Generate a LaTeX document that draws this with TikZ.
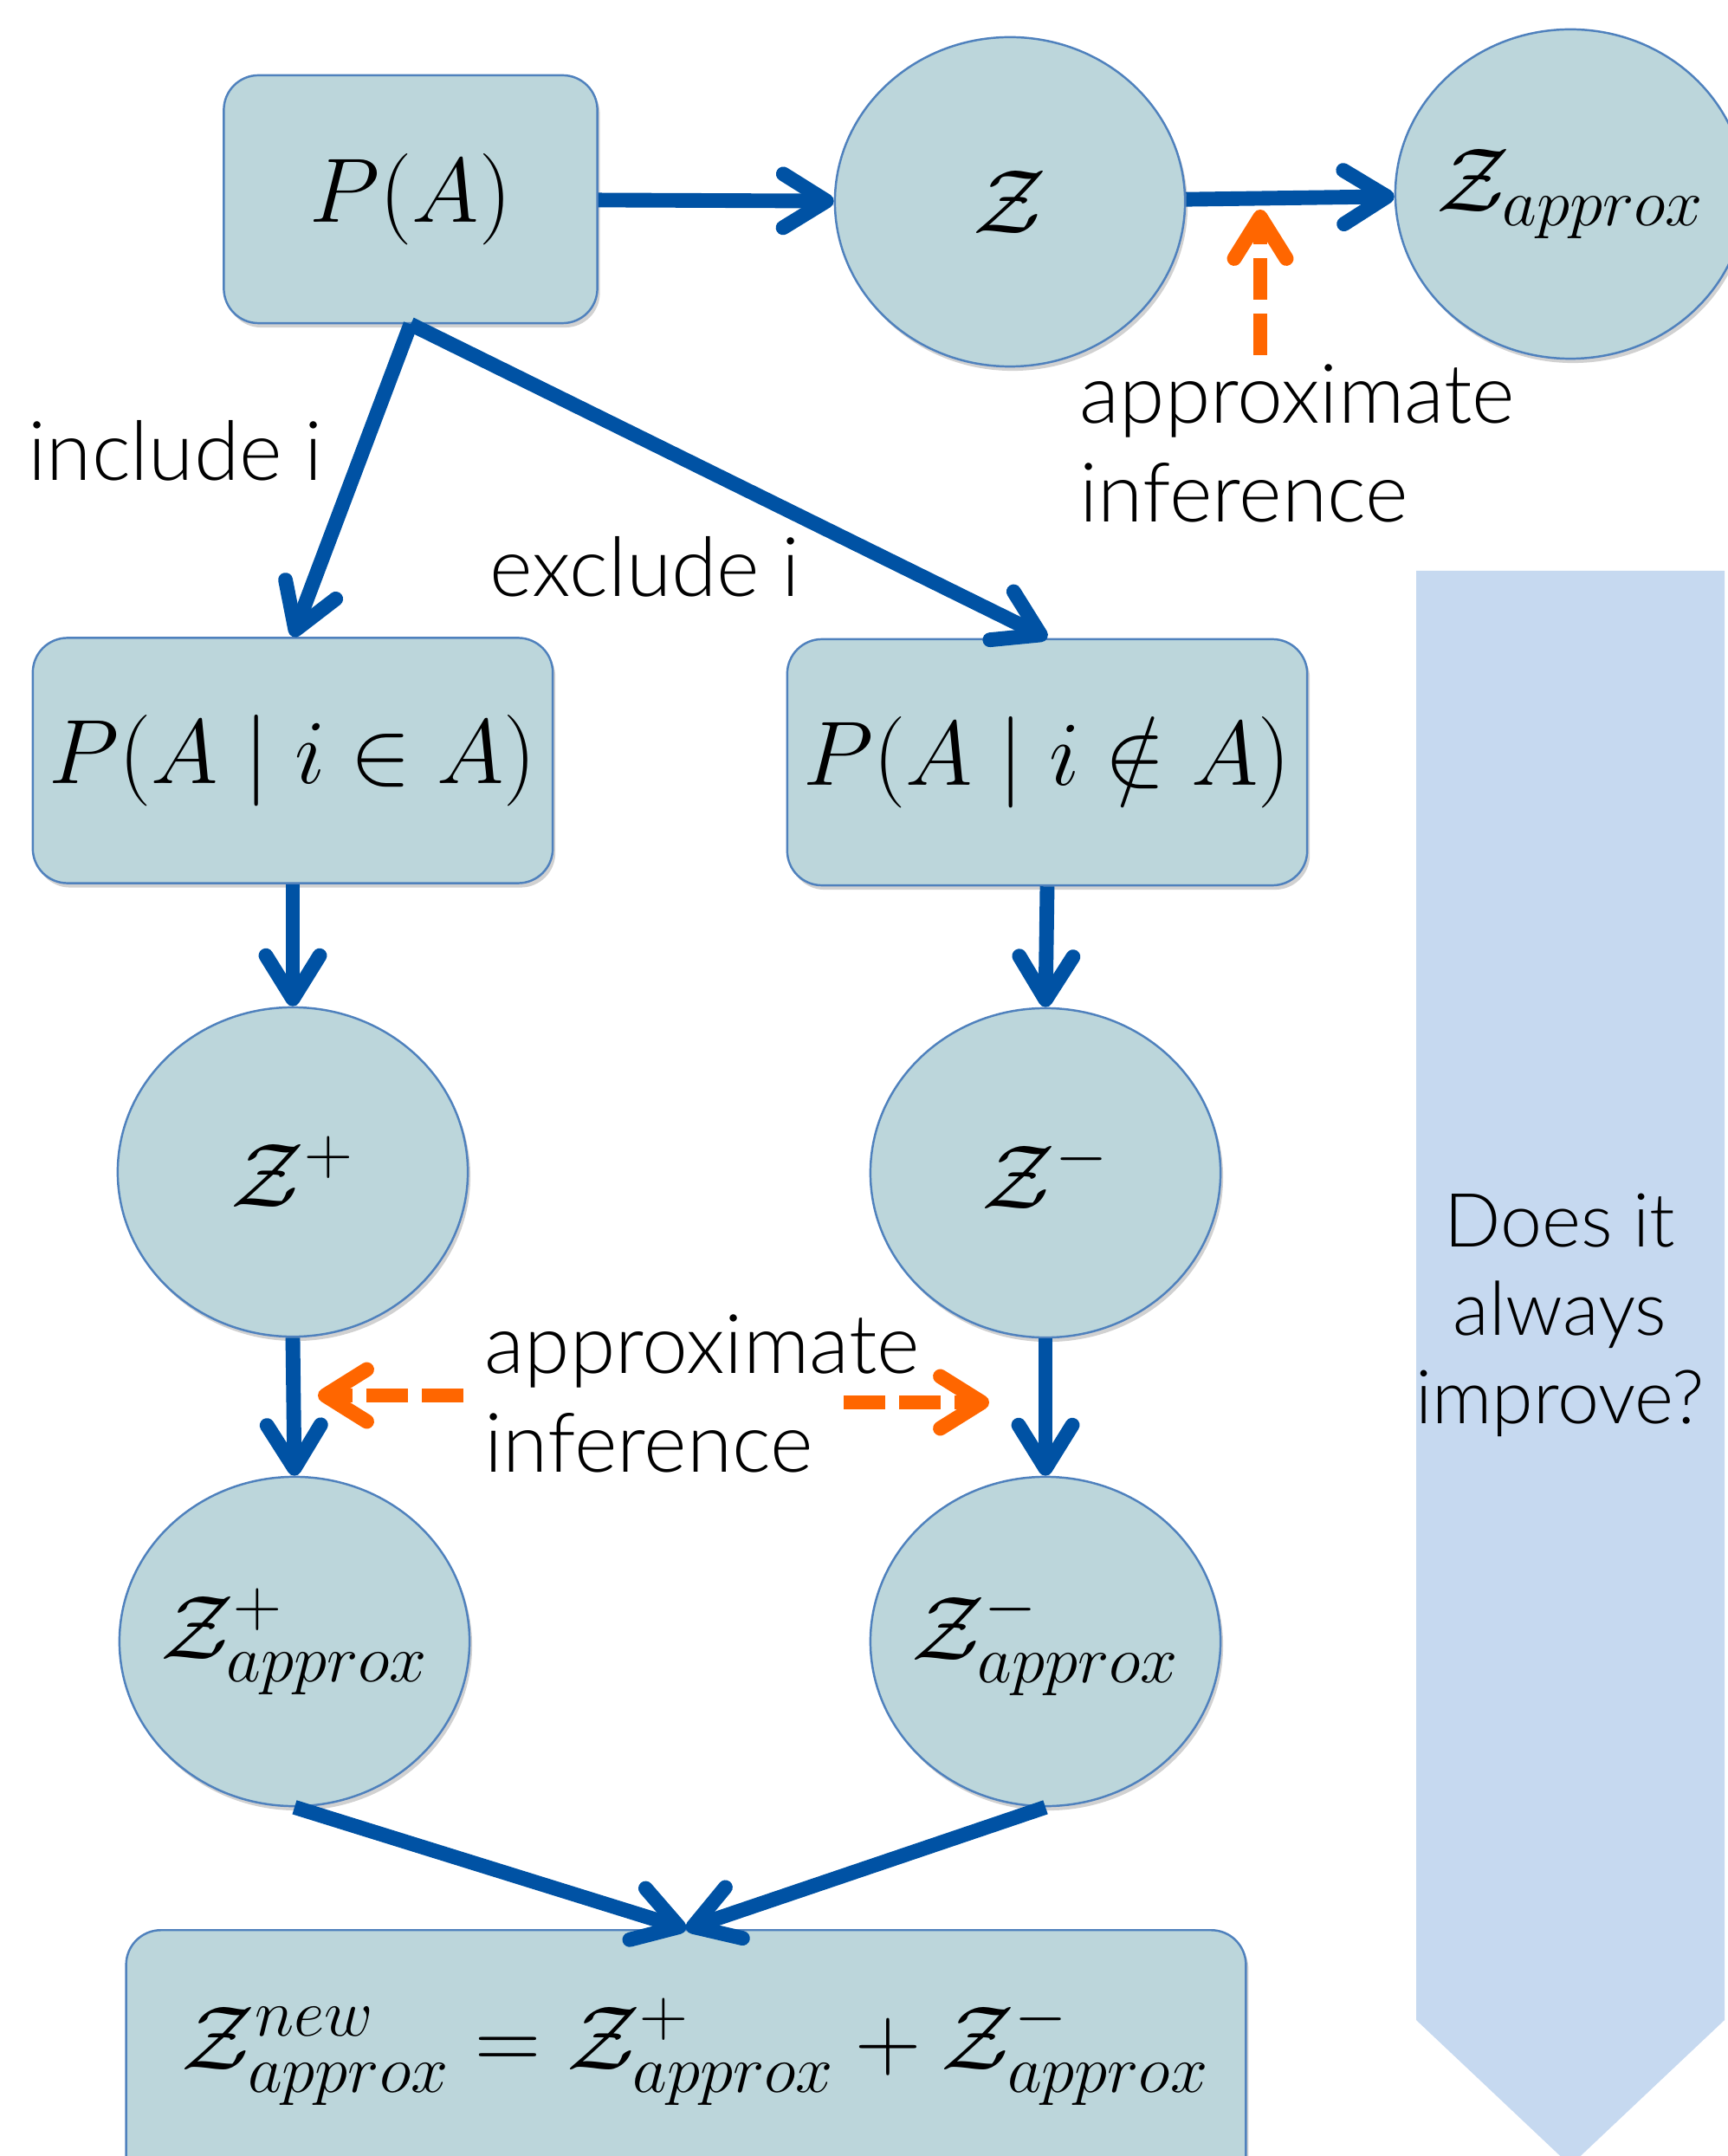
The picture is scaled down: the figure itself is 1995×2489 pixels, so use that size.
\RequirePackage{fix-cm}
\documentclass[tikz,border=0pt]{standalone}
\usepackage{fontspec}
\newfontfamily\lbl{Lato Light}
\usetikzlibrary{arrows.meta,shapes.geometric,shadows}
\DeclareMathSizes{30}{30}{22}{18}
\definecolor{nodefill}{RGB}{188,214,219}
\definecolor{nodeborder}{RGB}{79,129,189}
\definecolor{arrblue}{RGB}{0,82,164}
\definecolor{arrorange}{RGB}{255,102,0}
\definecolor{bigarrow}{RGB}{198,217,240}
\newcommand{\nobox}[1]{\makebox[0pt][c]{#1}}
\begin{document}
\begin{tikzpicture}[x=0.01cm,y=-0.01cm,
  mathtxt/.style={font=\fontsize{30}{36}\selectfont},
  shad/.style={drop shadow={shadow xshift=0.03cm,shadow yshift=-0.05cm,opacity=0.18,fill=black}},
  circ/.style={ellipse,draw=nodeborder,fill=nodefill,line width=0.7pt,minimum width=4.04cm,minimum height=3.8cm,inner sep=0pt,mathtxt,shad},
  box/.style={rectangle,rounded corners=0.4cm,draw=nodeborder,fill=nodefill,line width=0.7pt,inner sep=0pt,mathtxt,shad},
  lbltxt/.style={font=\lbl\fontsize{27}{32.5}\selectfont,inner sep=0pt},
  flow/.style={draw=arrblue,line width=4.8pt,-{Straight Barb[length=0.5cm,width=0.62cm,round]}},
  approxarr/.style={draw=arrorange,line width=4.8pt,dash pattern=on 0.48cm off 0.16cm,-{Straight Barb[length=0.48cm,width=0.6cm,round]}}
]
\path[use as bounding box] (0,0) rectangle (1995,2489);
\clip (0,0) rectangle (1995,2489);

% big arrow on the right
\fill[bigarrow] (1635,659) -- (1991,659) -- (1991,2332) -- (1813,2500) -- (1635,2332) -- cycle;
\node[lbltxt,align=center,font=\lbl\fontsize{24.5}{29}\selectfont] (q) at (1801,1518) {Does it\\always\\improve?};

% nodes
\node[box,minimum width=4.31cm,minimum height=2.86cm] (PA) at (474,230) {$P(A)$};
\node[circ] (Z) at (1166,233) {\nobox{$\mathcal{Z}$}};
\node[circ] (Zap) at (1813,224) {\nobox{$\mathcal{Z}_{approx}$}};
\node[box,minimum width=6cm,minimum height=2.83cm] (LB) at (338,878) {$P(A \mid i \in A)$};
\node[box,minimum width=6cm,minimum height=2.84cm] (RB) at (1209,880) {$P(A \mid i \notin A)$};
\node[circ] (Zp) at (338,1353) {\nobox{$\mathcal{Z}^{+}$}};
\node[circ] (Zm) at (1207,1354) {\nobox{$\mathcal{Z}^{-}$}};
\node[circ] (Zpa) at (340,1895) {\nobox{$\mathcal{Z}^{+}_{approx}$}};
\node[circ] (Zma) at (1207,1895) {\nobox{$\mathcal{Z}^{-}_{approx}$}};
\node[box,minimum width=12.92cm,minimum height=4cm,anchor=north] (Bot) at (792,2227) {};
\node[mathtxt,inner sep=0pt] (form) at (803,2368) {$\mathcal{Z}^{new}_{approx} = \mathcal{Z}^{+}_{approx} + \mathcal{Z}^{-}_{approx}$};

% labels
\node[lbltxt,anchor=west,align=left] (top) at (1246,512) {approximate\\inference};
\node[lbltxt,anchor=west] (inc) at (32,520) {include i};
\node[lbltxt,anchor=west] (exc) at (565,654) {exclude i};
\node[lbltxt,anchor=west,align=left] (mid) at (559,1609) {approximate\\inference};

% blue connectors
\draw[flow] (PA) -- (Z);
\draw[flow] (Z) -- (Zap);
\draw[flow] (PA.south) -- (LB.north);
\draw[flow] (PA.south) -- (RB.north);
\draw[flow] (LB.south) -- (Zp.north);
\draw[flow] (RB.south) -- (Zm.north);
\draw[flow] (Zp.south) -- (Zpa.north);
\draw[flow] (Zm.south) -- (Zma.north);
\draw[flow] (Zpa.south) -- (Bot.north);
\draw[flow] (Zma.south) -- (Bot.north);

% orange dashed arrows
\coordinate (t1) at (1455,410);
\coordinate (t2) at (1455,242);
\draw[approxarr] (t1) -- (t2);
\coordinate (l1) at (535,1611);
\coordinate (l2) at (367,1611);
\draw[approxarr] (l1) -- (l2);
\coordinate (r1) at (974,1619);
\coordinate (r2) at (1142,1619);
\draw[approxarr] (r1) -- (r2);
\end{tikzpicture}
\end{document}
